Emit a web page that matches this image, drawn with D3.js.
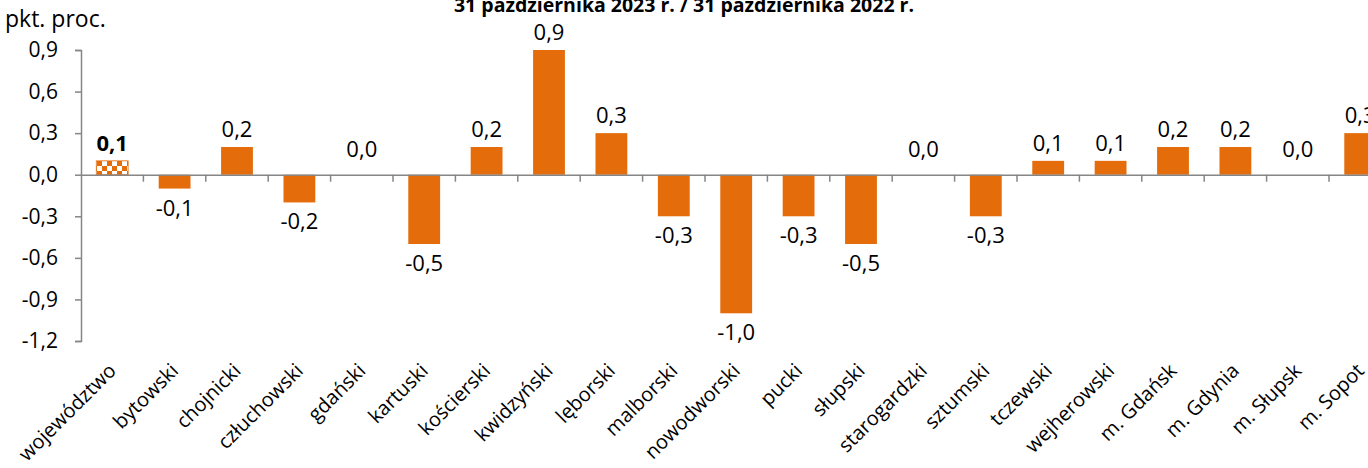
<!DOCTYPE html>
<html>
<head>
<meta charset="utf-8">
<script src="https://cdn.jsdelivr.net/npm/d3@7"></script>
<style>
  body { margin: 0; background: #fff; }
  svg text { font-family: "Open Sans", "Liberation Sans", sans-serif; fill: #000; }
</style>
</head>
<body>
<svg id="chart" width="1368" height="468"></svg>
<script>
// dane
var powiaty = ["województwo", "bytowski", "chojnicki", "człuchowski", "gdański", "kartuski",
    "kościerski", "kwidzyński", "lęborski", "malborski", "nowodworski", "pucki", "słupski",
    "starogardzki", "sztumski", "tczewski", "wejherowski", "m. Gdańsk", "m. Gdynia", "m. Słupsk", "m. Sopot"];
var zmiana = [0.1, -0.1, 0.2, -0.2, 0.0, -0.5, 0.2, 0.9, 0.3, -0.3, -1.0, -0.3, -0.5, 0.0, -0.3,
    0.1, 0.1, 0.2, 0.2, 0.0, 0.3];
var yTicks = [0.9, 0.6, 0.3, 0.0, -0.3, -0.6, -0.9, -1.2];

var orange = "#e46c0a", axisColor = "#868686";
var fmt = function(v){ return v.toFixed(1).replace(".", ","); };

var svg = d3.select("#chart");
var x0 = 81, bandW = 62.4;

var x = d3.scaleBand()
    .domain(powiaty)
    .range([x0, x0 + bandW * powiaty.length])
    .paddingInner(0.49)
    .paddingOuter(0.245);

var y = d3.scaleLinear().domain([-1.2, 0.9]).range([341, 50]);

// wzór szachownicy dla województwa
var defs = svg.append("defs");
var pat = defs.append("pattern").attr("id", "checker")
    .attr("patternUnits", "userSpaceOnUse").attr("width", 10).attr("height", 10)
    .attr("x", 97).attr("y", 161);
pat.append("rect").attr("width", 10).attr("height", 10).attr("fill", "#fff");
pat.append("rect").attr("width", 5).attr("height", 5).attr("fill", orange);
pat.append("rect").attr("x", 5).attr("y", 5).attr("width", 5).attr("height", 5).attr("fill", orange);

// tytuł (ucięty u góry)
svg.append("text").attr("x", 684).attr("y", 12)
    .attr("text-anchor", "middle").style("font-size", "19.5px").style("font-weight", "bold")
    .text("31 października 2023 r. / 31 października 2022 r.");

svg.append("text").attr("x", 5).attr("y", 27).style("font-size", "23px").text("pkt. proc.");

// oś Y
var yAxis = d3.axisLeft(y).tickValues(yTicks).tickFormat(fmt).tickSize(6).tickPadding(17);
var gy = svg.append("g").attr("transform", "translate(" + x0 + ",0)").call(yAxis);
gy.select(".domain").attr("stroke", axisColor).attr("stroke-width", 1.5);
gy.selectAll(".tick line").attr("stroke", axisColor).attr("stroke-width", 1.5);
gy.selectAll(".tick text").style("font-size", "21px").attr("fill", "#000");

// słupki
svg.selectAll(".bar").data(zmiana).enter().append("rect")
    .attr("class", "bar")
    .attr("x", function(d, i){ return x(powiaty[i]); })
    .attr("width", x.bandwidth())
    .attr("y", function(d){ return y(Math.max(0, d)); })
    .attr("height", function(d){ return Math.abs(y(d) - y(0)); })
    .attr("fill", function(d, i){ return i === 0 ? "url(#checker)" : orange; })
    .attr("stroke", function(d, i){ return i === 0 ? orange : "none"; })
    .attr("stroke-width", 0.8);

// oś X na poziomie zera
var xAxis = d3.axisBottom(x).tickSize(0).tickFormat("");
var gx = svg.append("g").attr("transform", "translate(0," + y(0) + ")").call(xAxis);
gx.select(".domain").attr("stroke", axisColor).attr("stroke-width", 1.5);
// znaczniki między kategoriami
gx.selectAll(".sep").data(powiaty.slice(1)).enter().append("line")
    .attr("class", "sep")
    .attr("x1", function(d){ return x(d) - x.step() * x.paddingInner() / 2; })
    .attr("x2", function(d){ return x(d) - x.step() * x.paddingInner() / 2; })
    .attr("y1", 0).attr("y2", 7)
    .attr("stroke", axisColor).attr("stroke-width", 1.5);

// etykiety wartości
svg.selectAll(".val").data(zmiana).enter().append("text")
    .attr("class", "val")
    .attr("x", function(d, i){ return x(powiaty[i]) + x.bandwidth() / 2; })
    .attr("y", function(d){
        if (d === 0) return y(0) - 18;
        return d > 0 ? y(d) - 10 : y(d) + 27;
    })
    .attr("text-anchor", "middle")
    .style("font-size", "22px")
    .style("font-weight", function(d, i){ return i === 0 ? "bold" : "normal"; })
    .text(fmt);

// etykiety kategorii
svg.selectAll(".cat").data(powiaty).enter().append("text")
    .attr("class", "cat")
    .attr("transform", function(d){
        return "translate(" + (x(d) + x.bandwidth() / 2 + 5) + ",372) rotate(-45)";
    })
    .attr("text-anchor", "end")
    .style("font-size", "20px")
    .text(function(d){ return d; });
</script>
</body>
</html>
